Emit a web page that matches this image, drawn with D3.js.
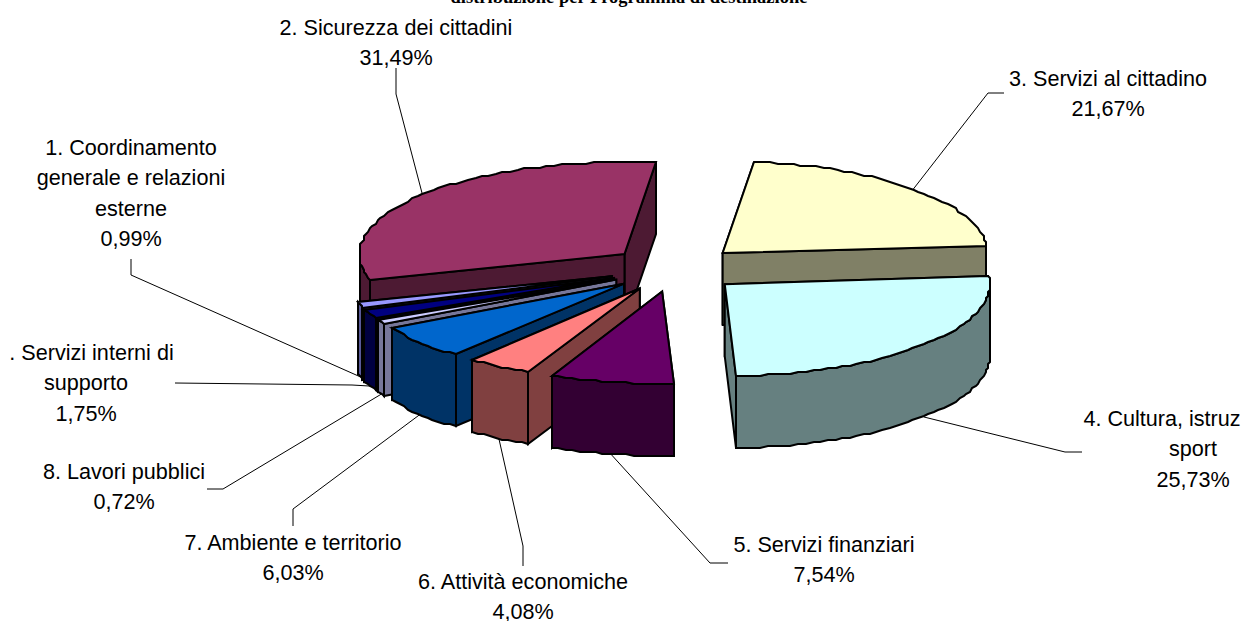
<!DOCTYPE html>
<html>
<head>
<meta charset="utf-8">
<script src="https://cdn.jsdelivr.net/npm/d3@7"></script>
<style>
  html, body { margin: 0; padding: 0; background: #fff; overflow: hidden; }
  text { font-family: "Liberation Sans", Arial, sans-serif; fill: #000; }
</style>
</head>
<body>
<div id="chart"></div>
<script>
const categories = [
  ["1. Coordinamento", "generale e relazioni", "esterne"],
  ["2. Sicurezza dei cittadini"],
  ["3. Servizi al cittadino"],
  ["4. Cultura, istruz", "sport"],
  ["5. Servizi finanziari"],
  ["6. Attività economiche"],
  ["7. Ambiente e territorio"],
  ["8. Lavori pubblici"],
  [". Servizi interni di", "supporto"]
];
const shares = [0.99, 31.49, 21.67, 25.73, 7.54, 4.08, 6.03, 0.72, 1.75];
const titleText = "distribuzione per Programma di destinazione";

const topColours = ["#9999ff", "#993366", "#ffffcc", "#ccffff", "#660066", "#ff8080", "#0066cc", "#ccccff", "#000080"];
const sideColours = ["#5a5a99", "#4d1a33", "#808066", "#668080", "#330033", "#804040", "#003366", "#77779a", "#000040"];

// paint order, back slices first
const drawOrder = [1, 2, 0, 8, 7, 6, 5, 4, 3];

// label centre x, first baseline y, first line shift, leader path after the arc point
const labelLayout = [
  { x: 131, y: 155, leader: [[131, 259], [131, 275]] },
  { x: 396, y: 35, leader: [[396, 68], [396, 94]] },
  { x: 1108, y: 86, leader: [[1004, 93], [988, 93]] },
  { x: 1193, y: 426, firstDx: -31, leader: [[1082, 452], [1065, 452]] },
  { x: 824, y: 552, leader: [[728, 563], [710, 563]] },
  { x: 523, y: 589, leader: [[523, 566], [523, 546]] },
  { x: 293, y: 550, leader: [[293, 526], [293, 509]] },
  { x: 124, y: 479, leader: [[207, 489], [223, 489]] },
  { x: 86, y: 360, firstDx: 5.5, leader: [[175, 383], [352, 385]] }
];

const width = 1245;
const height = 621;
const centerX = 675;
const centerY = 269;
const radiusX = 265;
const radiusY = 92;
const explode = 0.25;
const depth = 72;
const rotation = 7 - 0.3149 * 360 - 0.0099 * 360; // degrees, start of slice 1

const lineHeight = 30.3;
const commaFormat = v => d3.format(".2f")(v).replace(".", ",") + "%";

const svg = d3.select("#chart").append("svg")
  .attr("width", width)
  .attr("height", height)
  .style("display", "block");

const pie = d3.pie().sort(null)
  .startAngle(rotation * Math.PI / 180)
  .endAngle((rotation + 360) * Math.PI / 180);
const slices = pie(shares);

const project = (a, cx, cy, k = 1) => [
  cx + radiusX * k * Math.sin(a),
  cy - radiusY * k * Math.cos(a)
];
const line = d3.line();
const snap = p => [Math.round(p[0] / 2) * 2, Math.round(p[1] / 2) * 2];

const geometry = slices.map(s => {
  const mid = (s.startAngle + s.endAngle) / 2;
  const [cx, cy] = project(mid, centerX, centerY, explode);
  const steps = Math.max(2, Math.ceil((s.endAngle - s.startAngle) / 0.03));
  const angles = d3.range(steps + 1).map(i => s.startAngle + (s.endAngle - s.startAngle) * i / steps);
  const arc = angles.map(a => snap(project(a, cx, cy)));
  // only the part of the rim that faces the viewer gets a wall
  const rim = angles.filter(a => Math.cos(a) <= 0.03).map(a => snap(project(a, cx, cy)));
  return { mid, cx, cy, arc, rim };
});

const down = p => [p[0], p[1] + depth];

// leader lines go under the slices
const leaders = svg.append("g");
geometry.forEach((g, i) => {
  const p = project(g.mid, g.cx, g.cy);
  const anchor = Math.cos(g.mid) < 0 ? down(p) : p;
  leaders.append("path")
    .attr("d", line(labelLayout[i].leader.concat([anchor])))
    .attr("fill", "none")
    .attr("stroke", "#000")
    .attr("stroke-width", 1);
});

const pieG = svg.append("g")
  .attr("stroke", "#000")
  .attr("stroke-width", 2)
  .attr("stroke-linejoin", "miter")
  .attr("stroke-miterlimit", 6);

drawOrder.forEach(i => {
  const g = geometry[i];
  const apex = [g.cx, g.cy];
  const first = g.arc[0];
  const last = g.arc[g.arc.length - 1];

  // radial walls, the lower one last
  [first, last].sort((a, b) => a[1] - b[1]).forEach(p => {
    pieG.append("path")
      .attr("d", line([apex, p, down(p), down(apex)]) + "Z")
      .attr("fill", sideColours[i]);
  });

  // outer wall
  if (g.rim.length > 1) {
    pieG.append("path")
      .attr("d", line(g.rim.concat(g.rim.slice().reverse().map(down))) + "Z")
      .attr("fill", sideColours[i]);
  }

  // top face
  pieG.append("path")
    .attr("d", line([apex].concat(g.arc)) + "Z")
    .attr("fill", topColours[i]);
});

// labels
const labels = svg.append("g")
  .attr("font-size", 21.6)
  .attr("text-anchor", "middle");
categories.forEach((lines, i) => {
  const layout = labelLayout[i];
  lines.concat([commaFormat(shares[i])]).forEach((t, j) => {
    labels.append("text")
      .attr("x", layout.x + (j === 0 ? (layout.firstDx || 0) : 0))
      .attr("y", layout.y + j * lineHeight)
      .text(t);
  });
});

svg.append("text")
  .attr("x", 629)
  .attr("y", 3)
  .attr("text-anchor", "middle")
  .style("font-family", "'Liberation Serif', serif")
  .style("font-weight", "bold")
  .style("font-size", "18.5px")
  .text(titleText);
</script>
</body>
</html>
